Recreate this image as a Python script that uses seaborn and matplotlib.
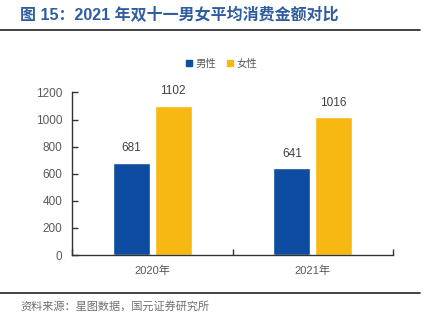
import matplotlib
matplotlib.use("Agg")
import matplotlib.pyplot as plt
import seaborn as sns
import pandas as pd
from matplotlib.lines import Line2D

# Data
years = ["2020年", "2021年"]
genders = ["男性", "女性"]
male_spend = [681, 641]
female_spend = [1102, 1016]
y_ticks = [0, 200, 400, 600, 800, 1000, 1200]

df = pd.DataFrame({
    "year": years * 2,
    "gender": [genders[0]] * len(years) + [genders[1]] * len(years),
    "value": male_spend + female_spend,
})

sns.set_theme(style="white")
plt.rcParams["font.family"] = ["Liberation Sans", "Noto Sans CJK SC", "DejaVu Sans"]

BLUE = "#0d4ca0"
YELLOW = "#f7b812"
GRAY = "#595959"

fig = plt.figure(figsize=(4.26, 3.24), dpi=100)
ax = fig.add_axes([72 / 426, 1 - 255 / 324, (393 - 72) / 426, (255 - 92.5) / 324])

sns.barplot(data=df, x="year", y="value", hue="gender", order=years,
            hue_order=genders, palette=[BLUE, YELLOW], width=0.52, gap=0.11,
            ax=ax, legend=False, saturation=1)

for cont in ax.containers:
    ax.bar_label(cont, labels=[f"{v:.0f}" for v in cont.datavalues],
                 padding=6, fontsize=8.5, color="#404040")

ax.set_ylim(0, 1200)
ax.set_xlim(-0.5, 1.5)
ax.set_yticks(y_ticks)
ax.set_xlabel("")
ax.set_ylabel("")
for s in ["top", "right"]:
    ax.spines[s].set_visible(False)
for s in ["left", "bottom"]:
    ax.spines[s].set_color("#333333")
    ax.spines[s].set_linewidth(1.0)
ax.tick_params(axis="y", direction="in", length=4, width=1, color="#333333",
               labelsize=8.5, labelcolor=GRAY, pad=7, left=True)
ax.tick_params(axis="x", length=0, labelsize=8, labelcolor=GRAY, pad=8)
# category boundary ticks along the x axis
ax.set_xticks([-0.5, 0.5, 1.5], minor=True)
ax.tick_params(axis="x", which="minor", direction="in", length=4, width=1,
               color="#333333", bottom=True)

# Legend
handles = [Line2D([0], [0], marker="s", linestyle="", markersize=5,
                  markerfacecolor=c, markeredgecolor=c) for c in (BLUE, YELLOW)]
fig.legend(handles, genders, loc="center", bbox_to_anchor=(221 / 426, 1 - 64 / 324),
           ncol=2, frameon=False, fontsize=7.5, labelcolor=GRAY,
           handletextpad=0.2, columnspacing=0.9, handlelength=0.8)

# Title, rules and source
fig.text(20 / 426, 1 - 15 / 324, "图 15：2021 年双十一男女平均消费金额对比",
         fontsize=11.5, fontweight="bold", color="#2f5d9e", va="center", ha="left")
fig.add_artist(Line2D([0, 420 / 426], [1 - 29.5 / 324] * 2, color="#333333", lw=1.3))
fig.add_artist(Line2D([0, 420 / 426], [1 - 292.5 / 324] * 2, color="#333333", lw=1.3))
fig.text(20 / 426, 1 - 306 / 324, "资料来源：星图数据，国元证券研究所",
         fontsize=8, color="#707070", va="center", ha="left")

fig.savefig("out.png", dpi=100)
